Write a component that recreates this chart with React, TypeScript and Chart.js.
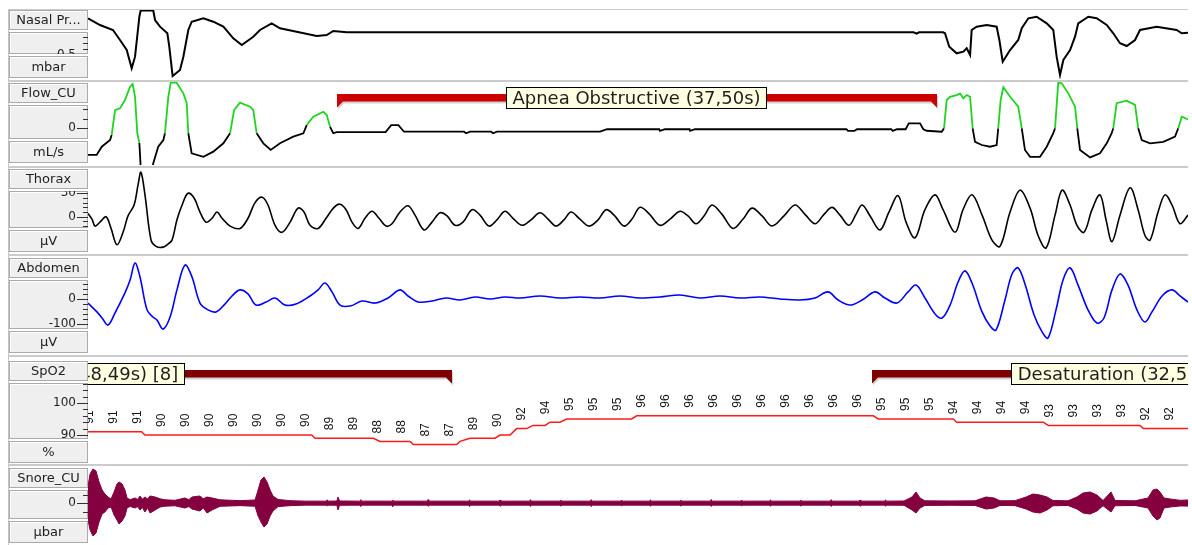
import React, { useEffect, useRef } from "react";
import { Chart, registerables } from "chart.js";

Chart.register(...registerables);

// ---------------- data ----------------
const WINDOW_START = 0; // s
const WINDOW_END = 68.75; // s

const channelNames = ["Nasal Pr...", "Flow_CU", "Thorax", "Abdomen", "SpO2", "Snore_CU"];
const channelUnits = ["mbar", "mL/s", "\u00b5V", "\u00b5V", "%", "\u00b5bar"];

const nasalTickLabels = [0, -0.5];
const flowTickLabels = [0];
const thoraxTickLabels = [30, 0];
const abdomenTickLabels = [0, -100];
const spo2TickLabels = [100, 90];
const snoreTickLabels = [0];

type Sample = [number, number];

// Nasal pressure [s, mbar]
const nasalSamples: Sample[] = [
  [0, 0.107], [0.75, -0.005], [1.56, -0.088], [2.0, -0.255], [2.42, -0.422], [2.73, -0.727], [2.94, -0.533],
  [3.21, 0.133], [3.29, 0.235], [4.08, 0.235], [4.19, 0.078], [4.5, -0.033], [4.96, -0.143], [5.08, -0.367],
  [5.29, -0.855], [5.75, -0.755], [5.96, -0.533], [6.27, -0.088], [6.48, 0.05], [7.21, 0.107], [7.83, 0.05],
  [8.46, -0.033], [9.08, -0.227], [9.61, -0.338], [10.33, -0.2], [10.75, -0.088], [11.48, 0.023], [12.0, -0.06],
  [13.04, -0.117], [14.29, -0.188], [14.92, -0.172], [15.33, -0.105], [16.17, -0.127], [51.6, -0.127],
  [51.79, -0.15], [51.94, -0.127], [53.44, -0.127], [53.56, -0.143], [53.83, -0.367], [54.29, -0.477],
  [54.71, -0.45], [54.92, -0.393], [55.13, -0.505], [55.23, -0.088], [55.54, -0.033], [56.17, -0.005],
  [56.79, -0.033], [56.96, -0.255], [57.17, -0.617], [57.63, -0.422], [58.14, -0.255], [58.36, -0.06],
  [58.77, 0.107], [59.29, 0.133], [59.92, 0.023], [60.33, -0.088], [60.54, -0.533], [60.75, -0.838],
  [60.96, -0.588], [61.38, -0.422], [61.69, -0.2], [61.89, 0.023], [62.52, 0.133], [63.04, 0.107],
  [63.67, -0.005], [64.08, -0.143], [64.5, -0.31], [64.92, -0.355], [65.44, -0.255], [65.75, -0.088],
  [66.79, -0.033], [68.04, -0.088], [68.36, -0.143], [68.75, -0.133],
];

// Flow [s, mL/s]
const flowSamples: Sample[] = [
  [0, -140], [0.54, -140], [0.86, -97], [1.38, -62], [1.48, -35], [1.69, 96], [2.0, 105], [2.31, 149],
  [2.63, 219], [2.79, 233], [2.94, 166], [3.08, -26], [3.21, -77], [3.31, -230], [3.97, -230], [4.08, -184],
  [4.39, -97], [4.71, -62], [4.81, -26], [5.02, 166], [5.17, 240], [5.54, 240], [5.96, 184], [6.17, 132],
  [6.27, -26], [6.48, -132], [7.21, -150], [7.83, -123], [8.46, -79], [8.88, -26], [9.13, 96], [9.5, 135],
  [10.13, 114], [10.33, 96], [10.54, -26], [10.96, -79], [11.42, -114], [12.0, -79], [12.83, -44],
  [13.46, -26], [13.67, 17], [14.08, 61], [14.71, 87], [14.92, 70], [15.13, 8], [15.33, -26], [15.54, -20],
  [18.6, -20], [18.95, 17], [19.4, 17], [19.75, -18], [23.5, -18], [23.63, -26], [23.88, -18], [25.2, -18],
  [25.31, -26], [25.56, -18], [32.0, -18], [32.44, -5], [35.7, -5], [35.75, -14], [36.06, -5], [37.6, -5],
  [37.63, -14], [37.94, -5], [47.4, -5], [47.5, -14], [47.9, -14], [48.06, -5], [50.2, -5], [50.3, -14],
  [50.56, -5], [51.1, -5], [51.3, 26], [52.0, 26], [52.21, -5], [52.42, -13], [53.36, -18], [53.5, 0],
  [53.67, 149], [53.88, 166], [54.29, 175], [54.5, 184], [54.71, 158], [54.92, 175], [55.13, 166], [55.29, 0],
  [55.44, -71], [55.86, -88], [56.38, -97], [56.79, -88], [56.89, 0], [57.04, 149], [57.21, 216], [57.63, 166],
  [58.14, 114], [58.36, 0], [58.56, -114], [58.88, -150], [59.5, -150], [59.92, -97], [60.33, -26], [60.44, 0],
  [60.64, 240], [60.86, 237], [61.27, 184], [61.69, 114], [61.83, 0], [62.0, -114], [62.63, -153],
  [63.25, -132], [63.67, -79], [63.98, -26], [64.08, 0], [64.29, 132], [64.92, 145], [65.44, 123], [65.64, 0],
  [65.86, -62], [66.38, -79], [67.21, -71], [67.94, -44], [68.14, 0], [68.36, 61], [68.75, 47],
];

// inspiration phases marked in green [start s, end s]
const flowInspirationSpans: [number, number][] = [
  [1.45, 3.25], [4.78, 6.3], [8.85, 10.56], [13.6, 15.15], [53.45, 55.3], [56.85, 58.38], [60.4, 61.85],
  [64.05, 65.66], [68.1, 69],
];

// Thorax [s, µV]
const thoraxSamples: Sample[] = [
  [0, 4], [0.25, -3], [0.44, -12], [0.75, -7], [1.13, 0], [1.44, -15], [1.81, -36], [2.19, -20], [2.5, 1],
  [2.88, 15], [3.13, 41], [3.31, 57], [3.56, 28], [3.94, -30], [4.25, -38], [4.69, -39], [5.0, -35], [5.25, -30],
  [5.56, -4], [5.88, 15], [6.25, 30], [6.63, 24], [7.0, 6], [7.38, -7], [7.75, -2], [8.06, 6], [8.38, -2],
  [8.88, -12], [9.5, -15], [10.0, -2], [10.44, 18], [10.88, 25], [11.25, 15], [11.69, -11], [12.13, -20],
  [12.63, -7], [13.13, 11], [13.5, 6], [13.88, -11], [14.38, -15], [14.88, -2], [15.38, 12], [15.75, 16],
  [16.13, 9], [16.5, -7], [16.88, -15], [17.31, -2], [17.75, 7], [18.19, -2], [18.63, -12], [19.0, -9],
  [19.5, 6], [20.0, 14], [20.44, 2], [21.0, -17], [21.5, -7], [22.0, 5], [22.44, 1], [22.94, -11], [23.44, -7],
  [24.0, 9], [24.5, 2], [25.06, -12], [25.56, -4], [26.06, 7], [26.56, -2], [27.13, -11], [27.69, -4],
  [28.25, 5], [28.75, -3], [29.25, -12], [29.75, -4], [30.19, 6], [30.69, -2], [31.31, -12], [31.88, -4],
  [32.38, 9], [32.88, 2], [33.5, -12], [34.0, -3], [34.5, 12], [35.06, 4], [35.75, -11], [36.38, -3], [37.0, 7],
  [37.5, 1], [38.0, -9], [38.5, 1], [39.0, 15], [39.63, 3], [40.31, -15], [40.94, -3], [41.5, 11], [42.13, 1],
  [42.75, -12], [43.5, 1], [44.19, 15], [44.81, 3], [45.44, -9], [46.0, 3], [46.5, 12], [47.0, 2],
  [47.56, -11], [48.0, 3], [48.38, 15], [48.88, 1], [49.5, -17], [50.06, 6], [50.63, 27], [51.13, -7],
  [51.69, -27], [52.31, 9], [52.94, 28], [53.44, 9], [54.19, -20], [54.69, 9], [55.25, 28], [55.88, 2],
  [56.5, -30], [57.0, -38], [57.63, 6], [58.25, 34], [58.88, 11], [59.38, -24], [59.88, -40], [60.44, 2],
  [60.88, 34], [61.38, 15], [61.81, -11], [62.25, -20], [62.75, 9], [63.25, 28], [63.63, -4], [64.0, -32],
  [64.5, 2], [65.13, 37], [65.63, 9], [66.06, -24], [66.38, -30], [66.88, 6], [67.31, 28], [67.75, 15],
  [68.25, -9], [68.75, 2],
];

// Abdomen [s, µV]
const abdomenSamples: Sample[] = [
  [0, -16], [0.56, -51], [0.88, -75], [1.25, -103], [1.69, -55], [2.31, 24], [2.63, 75], [2.94, 142],
  [3.25, 87], [3.69, -43], [4.06, -71], [4.31, -83], [4.69, -119], [5.13, -71], [5.56, 36], [6.06, 134],
  [6.5, 87], [7.0, -16], [7.5, -43], [8.0, -51], [8.5, -24], [9.0, 12], [9.5, 36], [10.0, 20], [10.5, -24],
  [11.13, -12], [11.69, 4], [12.31, -24], [13.0, -20], [13.88, 12], [14.38, 36], [14.81, 63], [15.25, 28],
  [15.75, -24], [16.38, -28], [17.13, -8], [17.94, -16], [18.75, 4], [19.5, 36], [20.0, 12], [20.63, -12],
  [21.5, -8], [22.38, 4], [23.25, -4], [24.19, 8], [25.13, 0], [26.06, 8], [27.0, 4], [28.25, 12], [29.5, 4],
  [30.75, 8], [32.0, 4], [33.25, 12], [34.5, 4], [35.75, 8], [37.0, 16], [38.25, 4], [39.5, 12], [40.75, 4],
  [42.0, 8], [43.25, 0], [44.5, -4], [45.44, 4], [46.25, 28], [46.88, -4], [47.63, -24], [48.38, -4],
  [49.19, 28], [49.81, 4], [50.56, -16], [51.25, 28], [51.75, 55], [52.31, 4], [52.94, -59], [53.38, -75],
  [53.88, -24], [54.38, 67], [54.81, 111], [55.25, 63], [55.88, -51], [56.38, -107], [56.75, -123],
  [57.31, -4], [57.75, 99], [58.13, 123], [58.56, 59], [59.13, -63], [59.63, -130], [60.0, -154], [60.5, -43],
  [60.94, 75], [61.38, 123], [61.88, 55], [62.5, -43], [63.06, -95], [63.5, -75], [64.0, 36], [64.5, 99],
  [65.0, 55], [65.56, -43], [66.06, -91], [66.5, -51], [67.13, 12], [67.75, 36], [68.25, 12], [68.75, -12],
];

// SpO2 trace [s, %]
const spo2Trace: Sample[] = [
  [0, 91], [3.35, 91], [3.56, 90], [13.98, 90], [14.19, 89], [17.83, 89], [18.25, 88], [20.13, 88], [20.33, 87],
  [23.04, 87], [23.25, 88], [23.88, 89], [25.44, 89], [25.75, 90], [26.38, 90], [26.79, 92], [27.42, 92],
  [27.81, 93], [28.56, 93], [28.88, 94], [29.5, 94], [29.92, 95], [33.98, 95], [34.29, 96], [49.08, 96],
  [49.39, 95], [54.08, 95], [54.29, 94], [59.71, 94], [60.02, 93], [65.75, 93], [65.96, 92], [68.75, 92],
];

// SpO2 value labels
const spo2LabelTimes = [
  0.13, 1.63, 3.13, 4.63, 6.13, 7.63, 9.13, 10.63, 12.13, 13.63, 15.13, 16.63, 18.13, 19.63, 21.13, 22.63,
  24.13, 25.63, 27.13, 28.63, 30.13, 31.63, 33.13, 34.63, 36.13, 37.63, 39.13, 40.63, 42.13, 43.63, 45.13,
  46.63, 48.13, 49.63, 51.13, 52.63, 54.13, 55.63, 57.13, 58.63, 60.13, 61.63, 63.13, 64.63, 66.13, 67.63,
];
const spo2LabelValues = [
  91, 91, 91, 90, 90, 90, 90, 90, 90, 90, 89, 89, 88, 88, 87, 87, 89, 90, 92, 94, 95, 95, 95, 96, 96, 96, 96,
  96, 96, 96, 96, 96, 96, 95, 95, 95, 94, 94, 94, 94, 93, 93, 93, 93, 92, 92,
];

// Snore envelope [s, upper µbar, lower µbar]
const snoreEnvelope: [number, number, number][] = [
  [0, 20.8, -20.1], [0.13, 35.3, -32.2], [0.31, 41.3, -39.4], [0.5, 38.9, -35.8], [0.69, 25.7, -22.5],
  [0.88, 16, -12.9], [1.06, 11.2, -10.5], [1.25, 7.6, -5.7], [1.44, 5.2, -4.5], [1.63, 13.6, -14.1],
  [1.81, 23.3, -20.1], [1.94, 25.7, -24.9], [2.13, 23.3, -21.3], [2.31, 16, -15.3], [2.44, 6.4, -5.7],
  [2.63, 4.4, -3.8], [2.94, 6.4, -5.7], [3.1, 4.6, -4.0], [3.25, 8.8, -8.1], [3.4, 5, -5], [3.56, 7.6, -10.5],
  [3.72, 5.2, -5.5], [3.88, 8.8, -11.7], [4.19, 7.6, -8.1], [4.5, 5.4, -4.5], [4.81, 4.2, -3.5], [5.44, 3.6, -3.0],
  [6.06, 6.4, -5.7], [6.3, 4.4, -4.0], [6.5, 7.6, -6.9], [7.0, 8.8, -9.3], [7.2, 5.5, -5.5], [7.44, 7.6, -11.7],
  [7.75, 6.4, -8.1], [8.25, 4.2, -3.6], [9.5, 3.2, -2.8], [10.44, 4.0, -3.6], [10.63, 16, -15.3],
  [10.81, 28.1, -22.5], [11.0, 31.7, -28.6], [11.19, 25.7, -24.9], [11.38, 16, -15.3], [11.56, 8.8, -9.3],
  [11.88, 4.6, -4.0], [12.63, 3.2, -2.8], [13.6, 2.6, -2.2], [14.9, 2.6, -2.2], [14.95, 4.2, -3.4],
  [15.0, 2.6, -2.2], [15.55, 2.8, -2.4], [15.63, 7.6, -8.1], [15.72, 2.8, -2.4], [17.0, 2.6, -2.2],
  [17.05, 4.4, -3.6], [17.1, 2.6, -2.2], [19.0, 2.6, -2.2], [19.05, 4.0, -3.8], [19.1, 2.6, -2.2],
  [21.2, 2.6, -2.2], [21.25, 4.4, -3.4], [21.3, 2.6, -2.2], [23.8, 2.6, -2.2], [23.85, 4.2, -4.0],
  [23.9, 2.6, -2.2], [25.7, 2.6, -2.2], [25.75, 4.0, -3.4], [25.8, 2.6, -2.2], [27.6, 2.6, -2.2],
  [27.65, 4.4, -3.8], [27.7, 2.6, -2.2], [29.5, 2.6, -2.2], [29.55, 4.0, -3.4], [29.6, 2.6, -2.2],
  [31.4, 2.6, -2.2], [31.45, 4.4, -4.0], [31.5, 2.6, -2.2], [33.3, 2.6, -2.2], [33.35, 4.0, -3.4],
  [33.4, 2.6, -2.2], [35.1, 2.6, -2.2], [35.15, 4.2, -3.6], [35.2, 2.6, -2.2], [37.0, 2.6, -2.2],
  [37.05, 4.0, -3.4], [37.1, 2.6, -2.2], [38.9, 2.6, -2.2], [38.95, 4.6, -3.8], [39.0, 2.6, -2.2],
  [40.8, 2.6, -2.2], [40.85, 4.0, -3.4], [40.9, 2.6, -2.2], [42.6, 2.6, -2.2], [42.65, 4.2, -3.6],
  [42.7, 2.6, -2.2], [44.5, 2.6, -2.2], [44.55, 4.0, -3.4], [44.6, 2.6, -2.2], [46.4, 2.6, -2.2],
  [46.45, 4.4, -3.8], [46.5, 2.6, -2.2], [48.2, 2.6, -2.2], [48.25, 4.0, -3.4], [48.3, 2.6, -2.2],
  [49.8, 2.6, -2.2], [49.85, 4.2, -3.6], [49.9, 2.6, -2.2], [51.0, 2.8, -2.4], [51.5, 7.6, -8.1],
  [51.75, 13.6, -11.7], [52.0, 6.4, -5.7], [52.3, 3.0, -2.6], [53.88, 2.8, -2.4], [55.44, 3.0, -2.6],
  [56.13, 7.6, -6.9], [56.63, 6.4, -5.7], [57.0, 3.0, -2.6], [57.94, 3.2, -2.8], [58.63, 7.6, -6.9],
  [59.06, 11.2, -10.5], [59.5, 10, -11.7], [59.94, 7.6, -8.1], [60.31, 3.4, -3.0], [61.25, 3.0, -2.6],
  [61.81, 7.6, -6.9], [62.19, 12.4, -11.7], [62.63, 13.6, -12.9], [63.06, 10, -9.3], [63.44, 3.4, -3.0],
  [63.94, 13.6, -10.5], [64.19, 3.4, -3.0], [65.44, 3.0, -2.6], [66.25, 6.4, -5.7], [66.56, 16, -15.3],
  [66.81, 17.2, -20.1], [67.0, 13.6, -17.7], [67.25, 6.4, -5.7], [67.63, 5.2, -4.5], [68.25, 3.6, -3.2],
  [68.75, 4.0, -3.4],
];

type EventDef = { name: string; start: number; end: number; suffix: string };
const apneaEvents: EventDef[] = [{ name: "Apnea Obstructive", start: 15.56, end: 53.06, suffix: "" }];
const desatEvents: EventDef[] = [
  { name: "Desaturation", start: -25.74, end: 22.75, suffix: " [8]" },
  { name: "Desaturation", start: 49.0, end: 81.5, suffix: " [4]" },
];

// ---------------- styling / layout ----------------
const FONT = '"DejaVu Sans", Verdana, sans-serif';
const CANVAS_W = 1184;
const GREEN = "#1fd41f";
const SNORE = "#84003f";

type PanelDef = {
  idx: number;
  top: number;
  bottom: number;
  colTop: number;
  colBottom: number;
  yMin: number;
  yMax: number;
  tickStep: number;
  tickLo: number;
  tickHi: number;
  tickLabels: number[];
  datasets: any[];
  extra?: any[];
};

const pts = (s: Sample[]) => s.map(([x, y]) => ({ x, y }));
const inSpan = (t: number) => flowInspirationSpans.some(([a, b]) => t >= a && t <= b);

function drawBox(ctx: CanvasRenderingContext2D, x: number, y: number, w: number, h: number) {
  x = Math.round(x);
  y = Math.round(y);
  w = Math.round(w);
  h = Math.round(h);
  ctx.fillStyle = "#efefef";
  ctx.fillRect(x, y, w, h);
  ctx.lineWidth = 1;
  ctx.strokeStyle = "#aaaaaa";
  ctx.strokeRect(x + 0.5, y + 0.5, w - 1, h - 1);
  ctx.strokeStyle = "#ffffff";
  ctx.beginPath();
  ctx.moveTo(x + 1.5, y + h - 2);
  ctx.lineTo(x + 1.5, y + 1.5);
  ctx.lineTo(x + w - 2, y + 1.5);
  ctx.stroke();
}

function columnPlugin(def: PanelDef) {
  return {
    id: "channelColumn",
    afterDraw(chart: any) {
      const ctx = chart.ctx as CanvasRenderingContext2D;
      const yScale = chart.scales.y;
      const ct = Math.round(def.colTop - def.top);
      const cb = Math.round(def.colBottom - def.top);
      const nameH = 20;
      const unitH = 22;
      const gap = 2;
      const bx = 1;
      const bw = 79;
      ctx.save();
      drawBox(ctx, bx, ct, bw, nameH);
      drawBox(ctx, bx, cb - unitH, bw, unitH);
      const midTop = ct + nameH + gap;
      const midBot = cb - unitH - gap;
      drawBox(ctx, bx, midTop, bw, midBot - midTop);
      ctx.fillStyle = "#1e1e1e";
      ctx.font = `13px ${FONT}`;
      ctx.textAlign = "center";
      ctx.textBaseline = "middle";
      ctx.fillText(channelNames[def.idx], bx + bw / 2, ct + nameH / 2 + 1);
      ctx.fillText(channelUnits[def.idx], bx + bw / 2, cb - unitH / 2 + 1);

      ctx.beginPath();
      ctx.rect(bx, midTop, bw, midBot - midTop);
      ctx.clip();
      ctx.strokeStyle = "#303030";
      ctx.lineWidth = 1;
      ctx.font = `12px ${FONT}`;
      ctx.textAlign = "right";
      ctx.textBaseline = "alphabetic";
      const n = Math.round((def.tickHi - def.tickLo) / def.tickStep);
      for (let k = 0; k <= n; k++) {
        const v = def.tickLo + k * def.tickStep;
        const py = Math.round(yScale.getPixelForValue(v)) + 0.5;
        const lab = def.tickLabels.find((l) => Math.abs(l - v) < def.tickStep / 100);
        const major = lab !== undefined;
        ctx.beginPath();
        ctx.moveTo(major ? 69 : 75, py);
        ctx.lineTo(80, py);
        ctx.stroke();
        if (major) {
          ctx.fillStyle = "#1e1e1e";
          ctx.fillText(String(lab), 68, py + 2.5);
        }
      }
      ctx.restore();
    },
  };
}

function drawEvent(chart: any, ev: EventDef, color: string) {
  const ctx = chart.ctx as CanvasRenderingContext2D;
  const a = chart.chartArea;
  const xs = chart.scales.x;
  ctx.save();
  ctx.beginPath();
  ctx.rect(a.left, a.top, a.right - a.left, a.bottom - a.top);
  ctx.clip();
  const x1 = Math.round(xs.getPixelForValue(ev.start));
  const x2 = Math.round(xs.getPixelForValue(ev.end));
  const barTop = a.top + 12;
  const barH = 7.5;
  const hook = 6;
  const shape = (dx: number, dy: number) => {
    ctx.beginPath();
    ctx.moveTo(x1 + dx, barTop + dy);
    ctx.lineTo(x2 + dx, barTop + dy);
    ctx.lineTo(x2 + dx, barTop + barH + hook + dy);
    ctx.lineTo(x2 - hook + dx, barTop + barH + dy);
    ctx.lineTo(x1 + hook + dx, barTop + barH + dy);
    ctx.lineTo(x1 + dx, barTop + barH + hook + dy);
    ctx.closePath();
    ctx.fill();
  };
  ctx.fillStyle = "rgba(0,0,0,0.18)";
  shape(1, 2);
  ctx.fillStyle = color;
  shape(0, 0);

  const dur = (ev.end - ev.start).toFixed(2).replace(".", ",");
  const text = `${ev.name} (${dur}s)${ev.suffix}`;
  ctx.font = `18px ${FONT}`;
  const w = ctx.measureText(text).width;
  const bw = Math.round(w + 13);
  const bh = 22;
  const cx = xs.getPixelForValue((ev.start + ev.end) / 2);
  const bx = Math.round(cx - bw / 2);
  const by = Math.round(a.top + 5);
  ctx.fillStyle = "#ffffe1";
  ctx.fillRect(bx, by, bw, bh);
  ctx.strokeStyle = "#000000";
  ctx.lineWidth = 1;
  ctx.strokeRect(bx + 0.5, by + 0.5, bw - 1, bh - 1);
  ctx.fillStyle = "#1e1e1e";
  ctx.textAlign = "center";
  ctx.textBaseline = "middle";
  ctx.fillText(text, bx + bw / 2, by + bh / 2 + 1);
  ctx.restore();
}

const apneaPlugin = {
  id: "apnea",
  afterDatasetsDraw(chart: any) {
    apneaEvents.forEach((ev) => drawEvent(chart, ev, "#cc0000"));
  },
};

const spo2Plugin = {
  id: "spo2Labels",
  afterDatasetsDraw(chart: any) {
    const ctx = chart.ctx as CanvasRenderingContext2D;
    const a = chart.chartArea;
    const xs = chart.scales.x;
    const ys = chart.scales.y;
    ctx.save();
    ctx.beginPath();
    ctx.rect(a.left, a.top, a.right - a.left, a.bottom - a.top);
    ctx.clip();
    ctx.font = '12px "Liberation Sans", Arial, sans-serif';
    ctx.fillStyle = "#141414";
    ctx.textAlign = "left";
    ctx.textBaseline = "middle";
    spo2LabelTimes.forEach((t, i) => {
      const px = xs.getPixelForValue(t);
      const py = ys.getPixelForValue(spo2LabelValues[i]) - 8;
      ctx.save();
      ctx.translate(px, py);
      ctx.rotate(-Math.PI / 2);
      ctx.fillText(String(spo2LabelValues[i]), 0, 0);
      ctx.restore();
    });
    ctx.restore();
    desatEvents.forEach((ev) => drawEvent(chart, ev, "#800000"));
  },
};

const line = (data: any[], color: string, width: number, tension = 0) => ({
  data,
  borderColor: color,
  borderWidth: width,
  pointRadius: 0,
  tension,
  fill: false,
});

const panels: PanelDef[] = [
  {
    idx: 0, top: 10, bottom: 79, colTop: 10, colBottom: 77.5, yMin: -0.905, yMax: 0.245,
    tickStep: 0.1, tickLo: -0.6, tickHi: 0.2, tickLabels: nasalTickLabels,
    datasets: [line(pts(nasalSamples), "#000000", 2)],
  },
  {
    idx: 1, top: 82, bottom: 165, colTop: 82.7, colBottom: 163.3, yMin: -193.2, yMax: 243.7,
    tickStep: 50, tickLo: 0, tickHi: 100, tickLabels: flowTickLabels,
    datasets: [
      {
        ...line(pts(flowSamples), "#000000", 1.8),
        segment: {
          borderColor: (c: any) => (inSpan((c.p0.parsed.x + c.p1.parsed.x) / 2) ? GREEN : "#000000"),
        },
      },
    ],
    extra: [apneaPlugin],
  },
  {
    idx: 2, top: 168, bottom: 253, colTop: 168.5, colBottom: 251.7, yMin: -46.5, yMax: 62.4,
    tickStep: 6, tickLo: -18, tickHi: 36, tickLabels: thoraxTickLabels,
    datasets: [line(pts(thoraxSamples), "#000000", 1.6, 0.35)],
  },
  {
    idx: 3, top: 257, bottom: 354, colTop: 258.3, colBottom: 352.7, yMin: -217.4, yMax: 166,
    tickStep: 20, tickLo: -140, tickHi: 80, tickLabels: abdomenTickLabels,
    datasets: [line(pts(abdomenSamples), "#0000ff", 1.6, 0.35)],
  },
  {
    idx: 4, top: 358, bottom: 463, colTop: 361, colBottom: 462.5, yMin: 81.25, yMax: 114.06,
    tickStep: 2, tickLo: 88, tickHi: 108, tickLabels: spo2TickLabels,
    datasets: [line(pts(spo2Trace), "#ff1a1a", 1.5)],
    extra: [spo2Plugin],
  },
  {
    idx: 5, top: 467, bottom: 545, colTop: 468, colBottom: 543, yMin: -50.2, yMax: 43.7,
    tickStep: 10, tickLo: -10, tickHi: 10, tickLabels: snoreTickLabels,
    datasets: [
      {
        ...line(snoreEnvelope.map(([x, hi]) => ({ x, y: hi })), SNORE, 1),
        fill: "+1",
        backgroundColor: SNORE,
      },
      line(snoreEnvelope.map(([x, , lo]) => ({ x, y: lo })), SNORE, 1),
    ],
  },
];

function ChannelPanel({ def }: { def: PanelDef }) {
  const ref = useRef<HTMLCanvasElement | null>(null);
  const h = def.bottom - def.top;
  useEffect(() => {
    const canvas = ref.current;
    if (!canvas) return;
    const chart = new Chart(canvas, {
      type: "line",
      data: { datasets: def.datasets },
      options: {
        animation: false,
        responsive: false,
        maintainAspectRatio: false,
        devicePixelRatio: 1,
        events: [],
        layout: { padding: { left: 80, right: 4, top: 0, bottom: 0 } },
        plugins: { legend: { display: false }, tooltip: { enabled: false } },
        scales: {
          x: { type: "linear", min: WINDOW_START, max: WINDOW_END, display: false },
          y: { type: "linear", min: def.yMin, max: def.yMax, display: false },
        },
      },
      plugins: [columnPlugin(def), ...(def.extra ?? [])],
    } as any);
    return () => chart.destroy();
  }, [def]);
  return (
    <canvas
      ref={ref}
      width={CANVAS_W}
      height={h}
      style={{ position: "absolute", left: 8, top: def.top, width: CANVAS_W, height: h, display: "block" }}
    />
  );
}

const separatorTops = [80, 166, 254, 355, 464];

export default function App() {
  return (
    <div style={{ position: "absolute", left: 0, top: 0, width: 1192, height: 545, background: "#ffffff", overflow: "hidden" }}>
      <div style={{ position: "absolute", left: 8, top: 9, width: 1180, height: 1, background: "#cccccc" }} />
      <div style={{ position: "absolute", left: 8, top: 9, width: 1, height: 536, background: "#c4c4c4" }} />
      {separatorTops.map((t) => (
        <div key={t} style={{ position: "absolute", left: 8, top: t, width: 1180, height: 2, background: "#cbcbcb" }} />
      ))}
      {panels.map((p) => (
        <ChannelPanel key={p.idx} def={p} />
      ))}
    </div>
  );
}
